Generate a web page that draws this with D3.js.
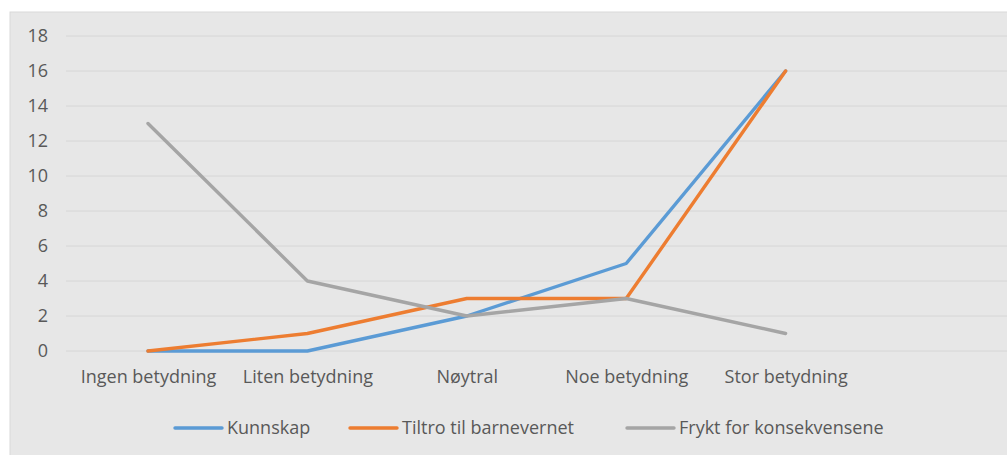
<!DOCTYPE html>
<html><head><meta charset="utf-8">
<script src="https://cdn.jsdelivr.net/npm/d3@7"></script>
<style>
html,body{margin:0;padding:0;background:#fff;}
svg{display:block;}
text{font-family:"Open Sans","DejaVu Sans",sans-serif;fill:#595959;}
</style></head>
<body><svg id="c" width="1007" height="455"></svg>
<script>
const categories = ["Ingen betydning","Liten betydning","Nøytral","Noe betydning","Stor betydning",""];
const seriesNames = ["Kunnskap","Tiltro til barnevernet","Frykt for konsekvensene"];
const kunnskap = [0,0,2,5,16];
const tiltro = [0,1,3,3,16];
const frykt = [13,4,2,3,1];
const yTicks = [0,2,4,6,8,10,12,14,16,18];
const colors = ["#5b9bd5","#ed7d31","#a5a5a5"];

const svg = d3.select("#c");
svg.append("rect").attr("x",10).attr("y",12).attr("width",1000).attr("height",450)
  .attr("fill","#e7e7e7").attr("stroke","#d9d9d9");

const x = d3.scalePoint().domain(categories).range([148, 148+5*159.4]);
const y = d3.scaleLinear().domain([0,18]).range([351,36]);

const grid = svg.append("g");
grid.selectAll("line").data(yTicks).join("line")
  .attr("x1",66).attr("x2",1007).attr("y1",d=>y(d)).attr("y2",d=>y(d))
  .attr("stroke","#d6d6d6").attr("stroke-width",1);

const fs = 18;
const yAxis = svg.append("g").attr("transform","translate(48,0)")
  .call(d3.axisLeft(y).tickValues(yTicks).tickSize(0).tickPadding(0));
yAxis.select(".domain").remove();
yAxis.selectAll("text").attr("font-size",fs).style("fill","#595959")
  .attr("font-family","'Open Sans','DejaVu Sans',sans-serif");

const xAxis = svg.append("g").attr("transform","translate(0,370)")
  .call(d3.axisBottom(x).tickSize(0).tickPadding(0));
xAxis.select(".domain").remove();
xAxis.selectAll("text").attr("font-size",fs).attr("dy","0.71em").style("fill","#595959")
  .attr("font-family","'Open Sans','DejaVu Sans',sans-serif");

const data = [kunnskap, tiltro, frykt];
const line = d3.line().x((d,i)=>x(categories[i])).y(d=>y(d));
svg.append("g").selectAll("path").data(data).join("path")
  .attr("d",line).attr("fill","none")
  .attr("stroke",(d,i)=>colors[i]).attr("stroke-width",3.4)
  .attr("stroke-linejoin","round").attr("stroke-linecap","round");

const legX = [175,350,627];
const leg = svg.append("g").selectAll("g").data(seriesNames).join("g")
  .attr("transform",(d,i)=>`translate(${legX[i]},428)`);
leg.append("line").attr("x1",0).attr("x2",47).attr("y1",0).attr("y2",0)
  .attr("stroke",(d,i)=>colors[i]).attr("stroke-width",3.4).attr("stroke-linecap","round");
leg.append("text").attr("x",52).attr("y",0).attr("dy","0.35em").attr("font-size",fs).text(d=>d);
</script></body></html>
